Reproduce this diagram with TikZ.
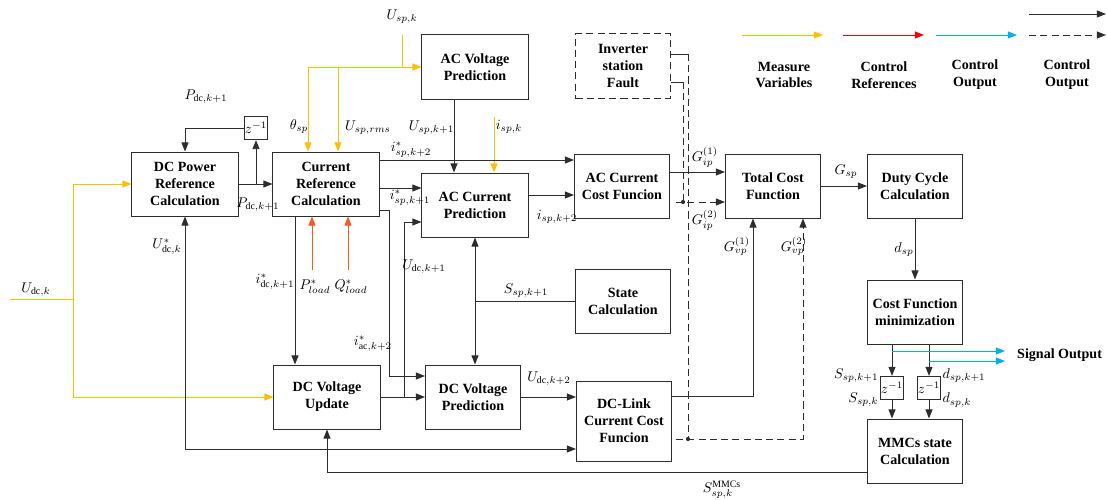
\documentclass[tikz,border=0pt]{standalone}
\usepackage{amsmath}
\usepackage{fontspec}
\setmainfont{Liberation Serif}
\usepackage{tikz}
\usetikzlibrary{arrows.meta,positioning,calc}
\definecolor{measure}{RGB}{255,192,0}
\definecolor{ctrlref}{RGB}{255,0,0}
\definecolor{loadref}{RGB}{255,85,30}
\definecolor{ctrlout}{RGB}{0,176,240}
\definecolor{wire}{RGB}{45,45,45}
\tikzset{>={Triangle[length=6.5pt,width=5pt]}}

\begin{document}
\begin{tikzpicture}[x=0.025cm, y=-0.025cm, line width=0.7pt, draw=wire,
  blk/.style={draw=wire, align=center, font=\bfseries, inner sep=1pt},
  wideblk/.style={blk, minimum width=2.65cm, minimum height=1.6cm},
  narrowblk/.style={blk, minimum width=2.375cm, minimum height=1.6cm},
  zblk/.style={draw=wire, inner sep=0pt, minimum width=0.56cm, minimum height=0.58cm},
  meas/.style={draw=measure, ->},
  dashline/.style={dash pattern=on 5pt off 3pt},
  lbl/.style={inner sep=1pt},
  dot/.style={fill=wire}]

\useasboundingbox (0,0) rectangle (1107,500);

% blocks
\node[wideblk] (dcpow) at (185,184) {DC Power\\Reference\\Calculation};
\node[zblk] (zp) at (256,128) {$z^{-1}$};
\node[wideblk] (curref) at (326,184) {Current\\Reference\\Calculation};
\node[wideblk] (acvp) at (475,67) {AC Voltage\\Prediction};
\node[wideblk] (accp) at (475,205) {AC Current\\Prediction};
\node[narrowblk] (accf) at (622,186) {AC Current\\Cost Funcion};
\node[narrowblk, dashline] (fault) at (623,66) {Inverter\\station\\Fault};
\node[narrowblk] (tcf) at (773,186) {Total Cost\\Function};
\node[narrowblk] (duty) at (915,186) {Duty Cycle\\Calculation};
\node[narrowblk] (state) at (623,301) {State\\Calculation};
\node[narrowblk] (cfmin) at (915,312) {Cost Function\\minimization};
\node[wideblk] (dcvu) at (327,397) {DC Voltage\\Update};
\node[narrowblk] (dcvp) at (473,397) {DC Voltage\\Prediction};
\node[narrowblk, minimum height=2cm] (dclink) at (624,421) {DC-Link\\Current Cost\\Funcion};
\node[narrowblk] (mmc) at (915,451) {MMCs state\\Calculation};
\node[zblk] (zs) at (892,388) {$z^{-1}$};
\node[zblk] (zd) at (929,388) {$z^{-1}$};

% measured dc voltage
\coordinate (udc) at (10,299);
\coordinate (udcsplit) at (73,299);
\draw[measure] (udc) -- (udcsplit);
\draw[meas] (udcsplit) |- (dcpow.west);
\draw[meas] (udcsplit) |- (dcvu.west);
\node[lbl] (lUdc) at (36,290) {$U_{\mathrm{dc},k}$};

% dc power reference
\draw[->] (dcpow.east) -- (curref.west);
\draw[->] (zp.south |- dcpow.east) -- (zp.south);
\draw[->] (zp.west) -| (dcpow.north);
\node[lbl] (lPdc1) at (206,97) {$P_{\mathrm{dc},k+1}$};
\node[lbl] (lPdc2) at (258,205) {$P_{\mathrm{dc},k+1}$};

% dc voltage reference
\draw[<->] (dcpow.south) |- (dclink.west |- 0,449);
\node[lbl] (lUdcref) at (167,247) {$U^{*}_{\mathrm{dc},k}$};

% MMC states feedback
\draw[->] (mmc.west |- 0,472) -| (dcvu.south);
\node[inner sep=0pt] (lSmmc) at (722,490) {$S_{sp,k}^{\mathrm{MMCs}}$};

% measured ac voltage
\coordinate (uspk) at (402,35);
\coordinate (usplit) at (402,67);
\draw[measure] (uspk) -- (usplit);
\draw[meas] (308,67) -- (acvp.west);
\draw[meas] (308,67) -- (curref.north -| 308,0);
\draw[meas] (338,67) -- (curref.north -| 338,0);
\node[lbl] (lUspk) at (402,17) {$U_{sp,k}$};
\node[lbl] (ltheta) at (299,127) {$\theta_{sp}$};
\node[lbl] (lUrms) at (368,128) {$U_{sp,rms}$};

% ac voltage prediction
\draw[->] (acvp.south -| 454,0) -- (accp.north -| 454,0);
\node[lbl, left] (lUsp1) at (456,128) {$U_{sp,k+1}$};
\draw[meas] (494,117) -- (accp.north -| 494,0);
\node[lbl] (lispk) at (509,127) {$i_{sp,k}$};

% current references
\draw[->] (curref.east |- 0,160) -- (accf.west |- 0,160);
\node[lbl] (lisp2) at (411,150) {$i^{*}_{sp,k+2}$};
\draw[->] (curref.east |- 0,188) -- (accp.west |- 0,188);
\node[lbl] (lisp1) at (410,198) {$i^{*}_{sp,k+1}$};
\draw[->] (curref.east |- 0,210) -| (389,376) -- (dcvp.west |- 0,376);
\node[lbl] (liac) at (373,344) {$i^{*}_{\mathrm{ac},k+2}$};
\draw[->] (curref.south -| 295,0) -- (dcvu.north -| 295,0);
\node[lbl] (lidc) at (275,282) {$i^{*}_{\mathrm{dc},k+1}$};

% load references
\draw[loadref, ->] (312,270) -- (curref.south -| 312,0);
\draw[loadref, ->] (348,270) -- (curref.south -| 348,0);
\node[lbl] (lPload) at (315,287) {$P^{*}_{load}$};
\node[lbl] (lQload) at (351,287) {$Q^{*}_{load}$};

% dc voltage update
\draw[->] (dcvu.east) -- (dcvp.west);
\draw[->] (404,397) |- (accp.west |- 0,222);
\node[lbl] (lUdc1) at (424,267) {$U_{\mathrm{dc},k+1}$};

% predictions to cost functions
\draw[->] (accp.east |- 0,195) -- (accf.west |- 0,195);
\node[lbl] (lisp) at (557,217) {$i_{sp,k+2}$};
\draw[<->] (accp.south) -- (accp.south |- dcvp.north);
\draw (state.west) -- (accp.south |- state.west);
\node[lbl] (lSsp1) at (526,291) {$S_{sp,k+1}$};
\draw[->] (dcvp.east) -- (dclink.west |- dcvp.east);
\node[lbl] (lUdc2) at (549,379) {$U_{\mathrm{dc},k+2}$};

% weighting factors
\draw[->] (accf.east |- 0,172) -- (tcf.west |- 0,172);
\node[lbl] (lGip1) at (705,157) {$G^{(1)}_{ip}$};
\draw[dashline, ->] (676,202) -- (tcf.west |- 0,202);
\node[lbl] (lGip2) at (705,220) {$G^{(2)}_{ip}$};
\draw (fault.east |- 0,54) -- (688,54);
\draw[dashline] (688,54) -- (688,439);
\draw (fault.east |- 0,82) -- (683,82);
\draw[dashline] (683,82) -- (683,202);
\fill[dot] (683,202) circle (1.5pt);
\fill[dot] (688,439) circle (1.5pt);
\draw[->] (dclink.east |- 0,396) -| (tcf.south -| 753,0);
\draw[dashline, ->] (676,439) -| (tcf.south -| 803,0);
\node[lbl] (lGvp1) at (737,246) {$G^{(1)}_{vp}$};
\node[lbl] (lGvp2) at (794,246) {$G^{(2)}_{vp}$};

% cost minimization
\draw[->] (tcf.east) -- (duty.west);
\node[lbl] (lGsp) at (846,172) {$G_{sp}$};
\draw[->] (duty.south) -- (cfmin.north);
\node[lbl] (ldsp) at (904,250) {$d_{sp}$};
\draw[->] (cfmin.south -| zs) -- (zs.north);
\draw[->] (cfmin.south -| zd) -- (zd.north);
\draw[->] (zs.south) -- (zs |- mmc.north);
\draw[->] (zd.south) -- (zd |- mmc.north);
\node[lbl, left] (lSk1) at (zs.north west) {$S_{sp,k+1}$};
\node[lbl, left] (lSk) at (zs.south west) {$S_{sp,k}$};
\node[lbl, right] (ldk1) at (zd.north east) {$d_{sp,k+1}$};
\node[lbl, right] (ldk) at (zd.south east) {$d_{sp,k}$};

% signal output
\coordinate (sig1) at (1005,351);
\coordinate (sig2) at (1005,361);
\draw[ctrlout, ->] (zs |- sig1) -- (sig1);
\draw[ctrlout, ->] (zd |- sig2) -- (sig2);
\node[font=\bfseries, right] (sigout) at (1012,355) {Signal Output};

% legend
\draw[measure, ->] (742,35) -- (823,35);
\draw[ctrlref, ->] (843,35) -- (924,35);
\draw[ctrlout, ->] (936,35) -- (1017,35);
\draw[->] (1029,14) -- (1106,14);
\draw[dashline, ->] (1029,35) -- (1106,35);
\node[align=center, font=\bfseries] (legmeas) at (784,75) {Measure\\Variables};
\node[align=center, font=\bfseries] (legref) at (884,75) {Control\\References};
\node[align=center, font=\bfseries] (legout) at (975,75) {Control\\Output};
\node[align=center, font=\bfseries] (legout2) at (1067,75) {Control\\Output};
\end{tikzpicture}
\end{document}
